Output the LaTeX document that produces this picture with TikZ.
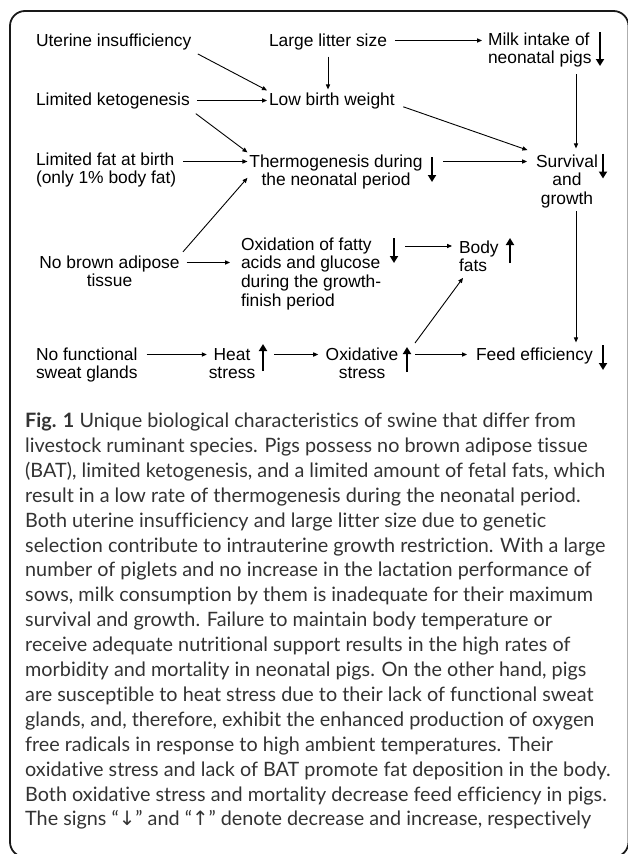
\documentclass[tikz,border=0pt]{standalone}
\usepackage{fontspec}
\setmainfont{Liberation Sans}
\newfontfamily\capfont[Ligatures=NoCommon]{Lato}
\newfontfamily\symfont{DejaVu Sans}
\usetikzlibrary{arrows.meta}
\begin{document}
\begin{tikzpicture}[x=1pt,y=-1pt,
  lbl/.style={font=\fontsize{17.4}{18.7}\selectfont, inner sep=0pt, outer sep=2pt},
  lblc/.style={lbl, align=center},
  lbll/.style={lbl, align=left},
  conn/.style={line width=0.9pt, -{Triangle[length=5pt,width=4.2pt]}, shorten <=5pt},
  indbox/.style={inner sep=0pt, outer sep=0pt, minimum width=8pt},
  indarr/.style={line width=2.6pt, -{Triangle[length=7pt,width=8pt]}},
  capt/.style={font=\capfont\fontsize{19.8}{24.9}\selectfont, inner sep=0pt, align=left, text=black!80}
]
\useasboundingbox (0,0) rectangle (627,854);
% frame
\draw[line width=1.8pt, rounded corners=15pt, black!90] (10,11) rectangle (628.5,857);

% labels (base anchor = baseline of the last line)
\node[lbl, anchor=base west] (uter) at (34,46) {Uterine insufficiency};
\node[lbl, anchor=base west] (litter) at (267,46) {Large litter size};
\node[lbll, anchor=base west] (milk) at (486,63.7) {Milk intake of\\neonatal pigs};
\node[lbl, anchor=base west] (keto) at (34,105) {Limited ketogenesis};
\node[lbl, anchor=base west] (low) at (267,105) {Low birth weight};
\node[lbll, anchor=base west] (fat) at (34,183.7) {Limited fat at birth\\(only 1\% body fat)};
\node[lblc, anchor=base] (thermo) at (336,185.7) {Thermogenesis during\\the neonatal period};
\node[lblc, anchor=base] (surv) at (567,204.4) {Survival\\and\\growth};
\node[lblc, anchor=base] (brown) at (109.5,286.7) {No brown adipose\\tissue};
\node[lbll, anchor=base west] (oxid) at (239,306.1) {Oxidation of fatty\\acids and glucose\\during the growth-\\finish period};
\node[lbll, anchor=base west] (body) at (457,271.7) {Body\\fats};
\node[lbll, anchor=base west] (sweat) at (34,378.7) {No functional\\sweat glands};
\node[lblc, anchor=base] (heat) at (232,378.7) {Heat\\stress};
\node[lblc, anchor=base] (oxs) at (362,378.7) {Oxidative\\stress};
\node[lbl, anchor=base west] (feed) at (474,360) {Feed efficiency};

% indicators
\node[indbox, minimum height=34pt] (milkI) at (600,49) {};
\node[indbox, minimum height=25pt] (thermoI) at (432,169.5) {};
\node[indbox, minimum height=25pt] (survI) at (603,166) {};
\node[indbox, minimum height=25pt] (oxidI) at (394,250.5) {};
\node[indbox, minimum height=25pt] (bodyI) at (510,250.5) {};
\node[indbox, minimum height=27pt] (heatI) at (263,357.5) {};
\node[indbox, minimum height=25pt] (oxsI) at (407,359.5) {};
\node[indbox, minimum height=25pt] (feedI) at (603,357.5) {};
\draw[indarr] (milkI.north) -- (milkI.south);
\draw[indarr] (thermoI.north) -- (thermoI.south);
\draw[indarr] (survI.north) -- (survI.south);
\draw[indarr] (oxidI.north) -- (oxidI.south);
\draw[indarr] (bodyI.south) -- (bodyI.north);
\draw[indarr] (heatI.south) -- (heatI.north);
\draw[indarr] (oxsI.south) -- (oxsI.north);
\draw[indarr] (feedI.north) -- (feedI.south);

% row coordinates (on the first text line of each row)
\coordinate (r1) at ([yshift=5.5pt]litter.base west);
\coordinate (r2) at ([yshift=24.2pt]thermo.base);
\coordinate (r4) at ([yshift=24.2pt]brown.base);
\coordinate (r5) at ([yshift=60.1pt]oxid.base west);
\coordinate (r3) at ([yshift=24.2pt]sweat.base west);
\coordinate (cR) at (576,0);

% connectors
\draw[conn, shorten <=6pt, shorten >=4pt] (litter.east |- r1) -- (milk.west |- r1);
\draw[conn, shorten >=1pt] (litter.south) -- (litter.south |- low.north);
\draw[conn] (uter.south east) -- (low.north west);
\draw[conn] (keto.east) -- (keto.east -| low.west);
\draw[conn] (keto.south east) -- (thermo.north west);
\draw[conn] (fat.east |- r2) -- (thermo.west |- r2);
\draw[conn, shorten <=2pt] (brown.north east) -- ([yshift=-6pt]thermo.west);
\draw[conn, shorten >=9pt] (brown.east |- r4) -- (oxid.west |- r4);
\draw[conn, shorten <=7pt, shorten >=5pt] (oxidI.east |- r5) -- (body.west |- r5);
\draw[conn, shorten <=7pt, shorten >=7pt] ([yshift=-4pt]low.east) -- (surv.north west);
\draw[conn, shorten <=7pt, shorten >=7pt] (thermoI.east |- r2) -- (surv.west |- r2);
\draw[conn, shorten >=4pt] (milk.south -| cR) -- (surv.north -| cR);
\draw[conn, shorten <=1pt, shorten >=3pt] (surv.south -| cR) -- (feed.north -| cR);
\draw[conn, shorten <=7pt] (sweat.east |- r3) -- (heat.west |- r3);
\draw[conn, shorten <=7pt, shorten >=5.5pt] (heatI.east |- r3) -- (oxs.west |- r3);
\draw[conn, shorten <=4pt, shorten >=7pt] (oxsI.east |- r3) -- (feed.west |- r3);
\draw[conn, shorten <=0pt, shorten >=0pt] ([xshift=4pt,yshift=4pt]oxsI.north east) -- ([xshift=6pt,yshift=-4pt]body.south west);

% caption
\node[capt, anchor=base west] (caption) at (25,825.9) {\textbf{Fig. 1} Unique biological characteristics of swine that differ from\\
livestock ruminant species. Pigs possess no brown adipose tissue\\
(BAT), limited ketogenesis, and a limited amount of fetal fats, which\\
result in a low rate of thermogenesis during the neonatal period.\\
Both uterine insufficiency and large litter size due to genetic\\
selection contribute to intrauterine growth restriction. With a large\\
number of piglets and no increase in the lactation performance of\\
sows, milk consumption by them is inadequate for their maximum\\
survival and growth. Failure to maintain body temperature or\\
receive adequate nutritional support results in the high rates of\\
morbidity and mortality in neonatal pigs. On the other hand, pigs\\
are susceptible to heat stress due to their lack of functional sweat\\
glands, and, therefore, exhibit the enhanced production of oxygen\\
free radicals in response to high ambient temperatures. Their\\
oxidative stress and lack of BAT promote fat deposition in the body.\\
Both oxidative stress and mortality decrease feed efficiency in pigs.\\
The signs “{\symfont ↓}” and “{\symfont ↑}” denote decrease and increase, respectively};
\end{tikzpicture}
\end{document}
